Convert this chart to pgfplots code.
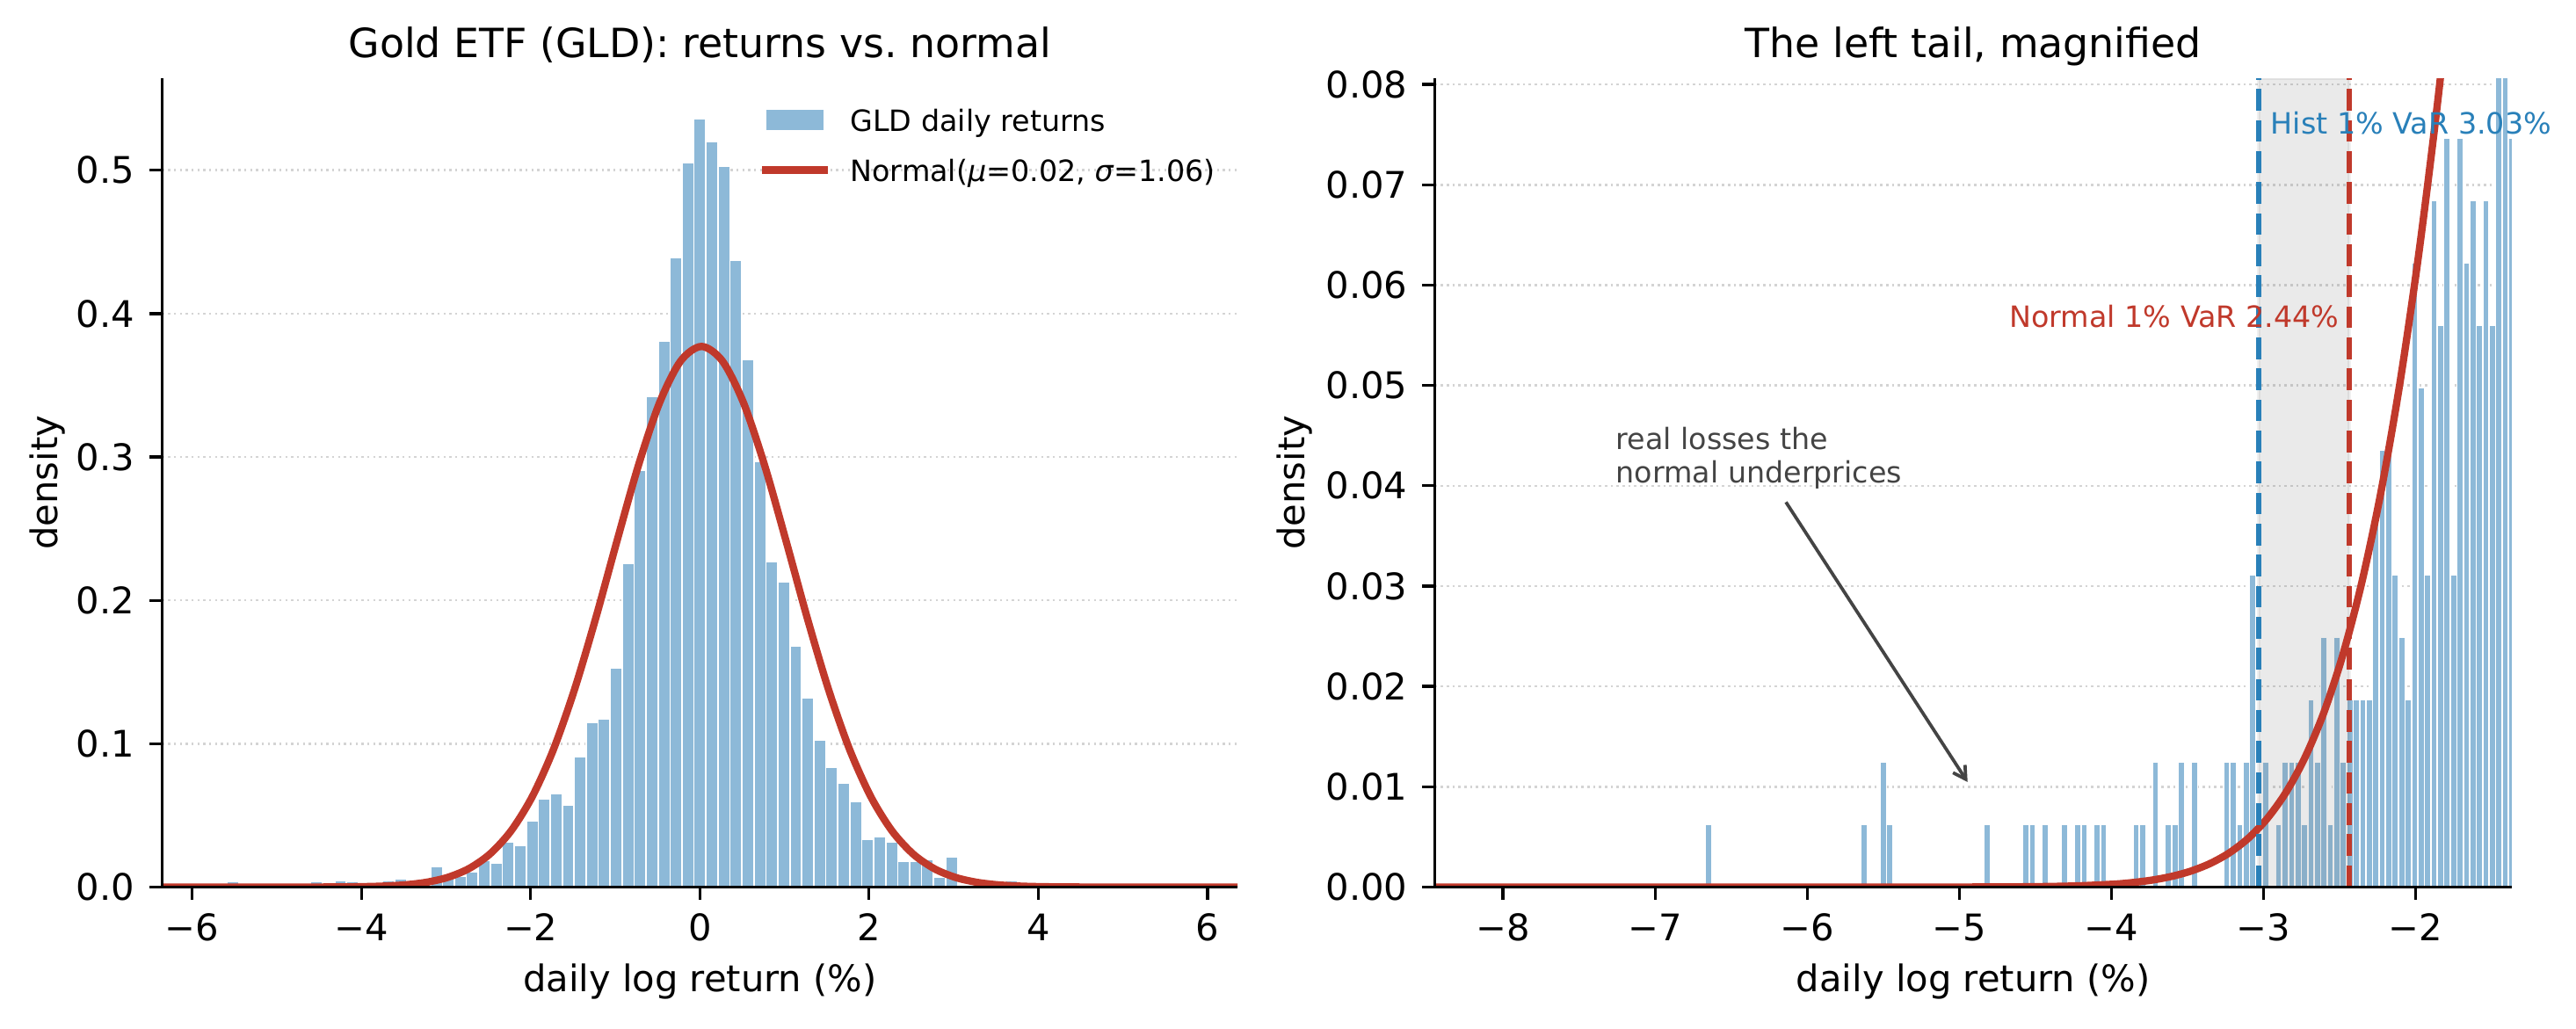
\documentclass[border=0pt]{standalone}
\usepackage{fontspec}
\setmainfont{DejaVu Sans}
\usepackage{pgfplots}
\pgfplotsset{compat=1.18}
\usetikzlibrary{arrows.meta}

\definecolor{histblue}{RGB}{141,185,216}
\definecolor{normred}{RGB}{192,57,43}
\definecolor{varblue}{RGB}{41,128,185}
\definecolor{annotgray}{RGB}{68,68,68}
\definecolor{gridgray}{RGB}{212,212,212}
\definecolor{spangray}{RGB}{128,128,128}

\newcommand\tickfont{\fontsize{10bp}{12bp}\selectfont}
\newcommand\labfont{\fontsize{10bp}{12bp}\selectfont}
\newcommand\titfont{\fontsize{11bp}{13.2bp}\selectfont}
\newcommand\smallfont{\fontsize{8bp}{9.6bp}\selectfont}

\pgfplotsset{
  /pgfplots/layers/mpl/.define layer set={
    axis background,axis grid,main,axis ticks,axis lines,
    axis tick labels,axis descriptions,axis foreground
  }{/pgfplots/layers/standard},
  mpl/.style={
    set layers=mpl,
    scale only axis,
    anchor=south west,
    height=220.85bp,
    axis x line*=bottom,
    axis y line*=left,
    axis line style={line width=0.8bp, black},
    tick align=outside,
    major tick length=3.5bp,
    tick style={line width=0.8bp, black},
    scaled x ticks=false, scaled y ticks=false,
    ymajorgrids,
    grid style={line width=0.6bp, gridgray, dash pattern=on 0.6bp off 1bp},
    ticklabel style={font=\tickfont, inner sep=0pt},
    xticklabel style={anchor=base, yshift=-11.2bp},
    yticklabel style={anchor=east, xshift=-3.8bp},
    every axis x label/.style={at={(axis description cs:0.5,0)}, anchor=base, yshift=-28.5bp, font=\labfont, inner sep=0pt},
    every axis title/.style={at={(axis description cs:0.5,1)}, anchor=base, yshift=5.8bp, font=\titfont, inner sep=0pt},
  },
}

\begin{document}
\begin{tikzpicture}

% ---------------- left panel ----------------
\begin{axis}[mpl,
  at={(44.28bp,38.52bp)}, width=293.64bp,
  xmin=-6.355, xmax=6.355, ymin=0, ymax=0.564,
  xtick={-6,-4,-2,0,2,4,6}, xticklabels={−6,−4,−2,0,2,4,6},
  ytick={0,0.1,0.2,0.3,0.4,0.5}, yticklabels={0.0,0.1,0.2,0.3,0.4,0.5},
  xlabel={daily log return (\%)},
  ylabel={density},
  every axis y label/.style={at={(axis description cs:-0.09706,0.5)}, rotate=90, anchor=base, font=\labfont, inner sep=0pt},
  title={Gold ETF (GLD): returns vs.\ normal},
  legend style={draw=none, fill=none, inner sep=0pt, outer sep=0pt,
    at={(axis description cs:0.5576,0.9640)}, anchor=north west,
    font=\smallfont, row sep=5.1bp, column sep=6.1bp,
    nodes={inner sep=0pt, text height=6.5bp, text depth=2bp}},
  legend cell align=left,
]
\addplot[ybar, bar width=0.1416, bar shift=0pt, fill=histblue, draw=white, line width=0.4bp,
  legend image code/.code={
    \draw[fill=histblue, draw=white, line width=0.4bp] (0bp,-2.18bp) rectangle (15.8bp,3.82bp);}]
coordinates {
(-5.6622,0.0019) (-5.5206,0.0037) (-5.3790,0.0019)
(-4.5294,0.0037) (-4.3878,0.0019) (-4.2462,0.0047) (-4.1046,0.0037)
(-3.9630,0.0028) (-3.8214,0.0019) (-3.6798,0.0047) (-3.5382,0.0056)
(-3.3966,0.0019) (-3.2550,0.0056) (-3.1134,0.0140) (-2.9718,0.0056)
(-2.8302,0.0075) (-2.6886,0.0105) (-2.5470,0.0187) (-2.4054,0.0168)
(-2.2638,0.0313) (-2.1222,0.0293) (-1.9806,0.0460) (-1.8390,0.0615)
(-1.6974,0.0650) (-1.5558,0.0570) (-1.4142,0.0908) (-1.2726,0.1150)
(-1.1310,0.1170) (-0.9894,0.1530) (-0.8478,0.2260) (-0.7062,0.2910)
(-0.5646,0.3420) (-0.4230,0.3810) (-0.2814,0.4390) (-0.1398,0.5050)
(0.0018,0.5360) (0.1434,0.5200) (0.2850,0.5030) (0.4266,0.4370)
(0.5682,0.3680) (0.7098,0.2970) (0.8514,0.2270) (0.9930,0.2130)
(1.1346,0.1680) (1.2762,0.1320) (1.4178,0.1025) (1.5594,0.0835)
(1.7010,0.0723) (1.8426,0.0594) (1.9842,0.0331) (2.1258,0.0353)
(2.2674,0.0317) (2.4090,0.0180) (2.5506,0.0180) (2.6922,0.0194)
(2.8338,0.0072) (2.9754,0.0212) (3.6834,0.0047)
};
\addlegendentry{GLD daily returns}
\addplot[normred, line width=2bp, smooth,
  legend image code/.code={
    \path[draw=none, fill=none] (0bp,-2.18bp) rectangle (15.8bp,3.82bp);
    \draw[draw=normred, fill=none, line width=2bp, line cap=rect] (-0.15bp,0.82bp) -- (15.95bp,0.82bp);}]
coordinates {
(-6.4,0) (-6.0,0) (-5.5,0.0000004) (-5.0,0.0000051) (-4.48,0.0000445)
(-4.23,0.000118) (-3.98,0.000297) (-3.73,0.000705) (-3.48,0.001585)
(-3.23,0.003368) (-2.98,0.006769) (-2.73,0.012863) (-2.48,0.023119)
(-2.23,0.039295) (-1.98,0.063162) (-1.73,0.096012) (-1.48,0.138020)
(-1.23,0.187634) (-0.98,0.241230) (-0.73,0.293295) (-0.48,0.337227)
(-0.23,0.366688) (0.02,0.377070) (0.27,0.366688) (0.52,0.337227)
(0.77,0.293295) (1.02,0.241230) (1.27,0.187634) (1.52,0.138020)
(1.77,0.096012) (2.02,0.063162) (2.27,0.039295) (2.52,0.023119)
(2.77,0.012863) (3.02,0.006769) (3.27,0.003368) (3.52,0.001585)
(3.77,0.000705) (4.02,0.000297) (4.27,0.000118) (4.52,0.0000445)
(5.04,0.0000051) (5.5,0.0000004) (6.0,0) (6.4,0)
};
\addlegendentry{Normal(\textit{μ}=0.02, \textit{σ}=1.06)}
\end{axis}

% ---------------- right panel ----------------
\begin{axis}[mpl,
  at={(391.85bp,38.52bp)}, width=294.0bp,
  xmin=-8.447, xmax=-1.370, ymin=0, ymax=0.0806,
  clip mode=individual,
  xtick={-8,-7,-6,-5,-4,-3,-2}, xticklabels={−8,−7,−6,−5,−4,−3,−2},
  ytick={0,0.01,0.02,0.03,0.04,0.05,0.06,0.07,0.08},
  yticklabels={0.00,0.01,0.02,0.03,0.04,0.05,0.06,0.07,0.08},
  xlabel={daily log return (\%)},
  ylabel={density},
  every axis y label/.style={at={(axis description cs:-0.1207,0.5)}, rotate=90, anchor=base, font=\labfont, inner sep=0pt},
  title={The left tail, magnified},
]
\addplot[ybar, bar width=0.04259, bar shift=0pt, fill=histblue, draw=white, line width=0.4bp]
coordinates {
(-6.6496,0.00622) (-5.6275,0.00622) (-5.4997,0.01244) (-5.4571,0.00622)
(-4.8183,0.00622) (-4.5627,0.00622) (-4.5201,0.00622) (-4.4350,0.00622)
(-4.3072,0.00622) (-4.2220,0.00622) (-4.1794,0.00622) (-4.0942,0.00622)
(-4.0517,0.00622) (-3.8387,0.00622) (-3.7961,0.00622) (-3.7109,0.01244)
(-3.6258,0.00622) (-3.5832,0.00622) (-3.5406,0.01244) (-3.4554,0.01244)
(-3.2424,0.01244) (-3.1998,0.01244) (-3.1573,0.00622) (-3.1147,0.01244)
(-3.0721,0.03110) (-2.9869,0.01244) (-2.9017,0.00622) (-2.8591,0.01244)
(-2.8165,0.01244) (-2.7740,0.01244) (-2.7314,0.00622) (-2.6888,0.01866)
(-2.6462,0.01244) (-2.6036,0.02488) (-2.5610,0.00622) (-2.5184,0.02488)
(-2.4758,0.01244) (-2.4332,0.01866) (-2.3906,0.01866) (-2.3481,0.01866)
(-2.3055,0.01866) (-2.2629,0.03732) (-2.2203,0.04354) (-2.1777,0.04354)
(-2.1351,0.03110) (-2.0925,0.02488) (-2.0499,0.01866) (-2.0073,0.06220)
(-1.9647,0.04976) (-1.9222,0.03110) (-1.8796,0.06842) (-1.8370,0.05598)
(-1.7944,0.07464) (-1.7518,0.03110) (-1.7092,0.07464) (-1.6666,0.06220)
(-1.6240,0.06842) (-1.5814,0.05598) (-1.5388,0.06842) (-1.4963,0.05598)
(-1.4537,0.08708) (-1.4111,0.08708) (-1.3685,0.07464)
};
% shaded band between the two VaR levels
\addplot[draw=spangray, draw opacity=0.12, line width=0.8bp, fill=spangray, fill opacity=0.17]
coordinates {(-3.033,0) (-3.033,0.0806) (-2.437,0.0806) (-2.437,0)} \closedcycle;
\addplot[normred, line width=2bp, smooth]
coordinates {
(-8.45,0) (-8.0,0) (-7.5,0) (-7.0,0) (-6.5,0) (-6.0,0) (-5.5,0.0000004)
(-5.0,0.0000051) (-4.73,0.0000158) (-4.48,0.0000445) (-4.23,0.000118)
(-3.98,0.000297) (-3.855,0.000461) (-3.73,0.000705) (-3.605,0.001065)
(-3.48,0.001585) (-3.355,0.002327) (-3.23,0.003368) (-3.105,0.004808)
(-2.98,0.006769) (-2.855,0.009397) (-2.73,0.012863) (-2.605,0.017366)
(-2.48,0.023119) (-2.355,0.030352) (-2.23,0.039295) (-2.105,0.050168)
(-1.98,0.063162) (-1.855,0.078419) (-1.73,0.096012) (-1.605,0.115921)
};
\addplot[varblue, line width=1.6bp, dash pattern=on 5.92bp off 2.56bp]
coordinates {(-3.033,0) (-3.033,0.0806)};
\addplot[normred, line width=1.6bp, dash pattern=on 5.92bp off 2.56bp]
coordinates {(-2.437,0) (-2.437,0.0806)};
\node[anchor=base west, inner sep=0pt, font=\smallfont, text=varblue]
  at (axis cs:-2.957,0.0751) {Hist 1\% VaR 3.03\%};
\node[anchor=base east, inner sep=0pt, font=\smallfont, text=normred]
  at (axis cs:-2.499,0.05576) {Normal 1\% VaR 2.44\%};
\node[anchor=base west, inner sep=0pt, font=\smallfont, text=annotgray]
  at (axis cs:-7.262,0.04363) {real losses the};
\node[anchor=base west, inner sep=0pt, font=\smallfont, text=annotgray]
  at (axis cs:-7.262,0.04033) {normal underprices};
\draw[annotgray, line width=0.9bp, -{Straight Barb[length=3.4bp,width=3.9bp]}]
  (axis cs:-6.140,0.03837) -- (axis cs:-4.946,0.01047);
\end{axis}

\pgfresetboundingbox
\path[use as bounding box] (0,0) rectangle (703.44bp,280.8bp);
\end{tikzpicture}
\end{document}
